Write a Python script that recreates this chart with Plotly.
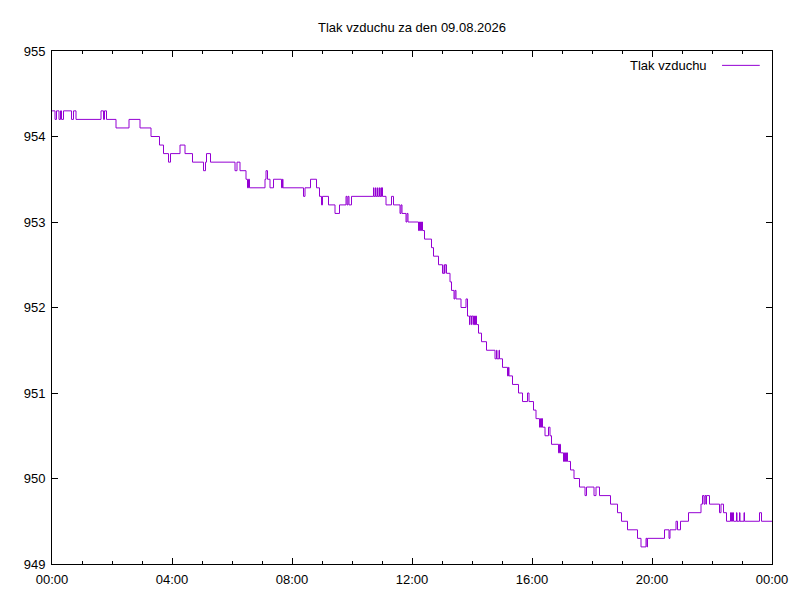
#!/usr/bin/env python
"""Denni graf tlaku vzduchu (styl gnuplot) vykresleny v Plotly."""
import pandas as pd
import plotly.graph_objects as go

# --- Data: minuta od pulnoci, tlak v hPa (schodovity prubeh) ---
day = "2026-08-09"
minutes = [
    0, 6, 9, 14, 17, 19, 23, 39, 43, 48, 98, 103, 105, 109, 128, 154, 176, 198,
    215, 223, 233, 237, 256, 266, 281, 303, 307, 309, 317, 366, 370, 376, 388,
    391, 393, 395, 426, 428, 431, 436, 443, 459, 461, 462, 503, 506, 517, 529,
    535, 539, 541, 553, 566, 575, 588, 590, 592, 594, 599,
    643, 644, 647, 648, 651, 652, 655, 656, 658, 659, 660, 661,
    668, 679, 683, 696, 698, 700, 708, 710, 712,
    733, 735, 737, 739, 741, 745, 759, 763, 773, 781, 784, 785, 786, 789, 796,
    799, 804, 806, 808, 818, 828, 831, 835, 836, 839, 840, 843, 845, 846, 847,
    849, 853, 859, 869, 886, 889, 890, 894, 895, 901, 911, 913, 914, 921, 933,
    941, 951, 954, 963, 968, 975, 977, 979, 980, 981, 986, 993, 996, 999, 1013,
    1015, 1017, 1023, 1025, 1027, 1029, 1031, 1033, 1037, 1044, 1055, 1066,
    1069, 1084, 1088, 1095, 1117, 1131, 1139, 1151, 1171, 1178, 1188, 1190,
    1191, 1225, 1234, 1236, 1248, 1251, 1257, 1273, 1298, 1301, 1304, 1306,
    1308, 1309, 1315, 1335, 1338, 1343, 1349, 1357, 1359, 1361, 1363, 1369,
    1370, 1375, 1376, 1384, 1385, 1415, 1419, 1440,
]
pressure = [
    954.3, 954.2, 954.3, 954.2, 954.3, 954.2, 954.3, 954.2, 954.3, 954.2,
    954.3, 954.2, 954.3, 954.2, 954.1, 954.2, 954.1, 954.0, 953.9, 953.8,
    953.7, 953.8, 953.9, 953.8, 953.7, 953.6, 953.7, 953.8, 953.7, 953.6,
    953.7, 953.6, 953.5, 953.4, 953.5, 953.4, 953.5, 953.6, 953.5, 953.4,
    953.5, 953.4, 953.5, 953.4, 953.3, 953.4, 953.5, 953.4, 953.3, 953.2,
    953.3, 953.2, 953.1, 953.2, 953.3, 953.2, 953.3, 953.2, 953.3,
    953.4, 953.3, 953.4, 953.3, 953.4, 953.3, 953.4, 953.3, 953.4, 953.3,
    953.4, 953.3,
    953.2, 953.3, 953.2, 953.1, 953.2, 953.1, 953.0, 953.1, 953.0,
    952.9, 953.0, 952.9, 953.0, 952.9, 952.8, 952.7, 952.6, 952.5, 952.4,
    952.5, 952.4, 952.5, 952.4, 952.3, 952.2, 952.1, 952.2, 952.1, 952.0,
    952.1, 951.9, 951.8, 951.9, 951.8, 951.9, 951.8, 951.9, 951.8, 951.9,
    951.8, 951.7, 951.6, 951.5, 951.4, 951.5, 951.4, 951.5, 951.4, 951.3,
    951.2, 951.3, 951.2, 951.1, 951.0, 950.9, 951.0, 950.9, 950.8, 950.7,
    950.6, 950.7, 950.6, 950.7, 950.6, 950.5, 950.6, 950.5, 950.4, 950.3,
    950.4, 950.3, 950.2, 950.3, 950.2, 950.3, 950.2, 950.2, 950.1, 950.0,
    949.9, 949.8, 949.9, 949.8, 949.9, 949.8, 949.7, 949.6, 949.5, 949.4,
    949.3, 949.2, 949.3, 949.2, 949.3, 949.4, 949.3, 949.4, 949.5, 949.4,
    949.5, 949.6, 949.7, 949.8, 949.7, 949.8, 949.7, 949.8, 949.7, 949.6,
    949.7, 949.6, 949.5, 949.6, 949.5, 949.6, 949.5, 949.6, 949.5, 949.6,
    949.5, 949.6, 949.5, 949.6, 949.5, 949.5,
]
series_name = "Tlak vzduchu"
title_text = "Tlak vzduchu za den 09.08.2026"

times = pd.Timestamp(day) + pd.to_timedelta(minutes, unit="min")
start = pd.Timestamp(day)
end = start + pd.Timedelta(days=1)

FONT = "Liberation Sans, Arial, sans-serif"
FSIZE = 13
LINE_COLOR = "#9400D3"

# the page body adds an 8 px margin, so the figure is 8 px smaller
W, H = 792, 592

fig = go.Figure()
fig.add_trace(go.Scatter(
    x=times,
    y=pressure,
    mode="lines",
    name=series_name,
    line=dict(color=LINE_COLOR, width=1, shape="hv"),
))

# gnuplot-like key: text on the left, sample line on the right
fig.add_annotation(
    text=series_name, xref="paper", yref="paper", x=0.912, y=0.971,
    xanchor="right", yanchor="middle", showarrow=False,
    font=dict(family=FONT, size=FSIZE, color="black"),
)
fig.add_shape(
    type="line", xref="paper", yref="paper", x0=0.9306, x1=0.983,
    y0=0.972, y1=0.972, line=dict(color=LINE_COLOR, width=1),
)

fig.update_layout(
    width=W, height=H,
    margin=dict(l=44, r=28, t=43, b=36, autoexpand=False),
    paper_bgcolor="white", plot_bgcolor="white",
    showlegend=False,
    font=dict(family=FONT, size=FSIZE, color="black"),
    title=dict(text=title_text, x=0.5, xref="paper", xanchor="center",
               y=1 - 19 / H, yref="container", yanchor="middle",
               font=dict(family=FONT, size=FSIZE, color="black")),
)
fig.update_xaxes(
    type="date", range=[start, end], dtick=4 * 3600 * 1000, tick0=start,
    tickformat="%H:%M", ticks="inside", ticklen=6, tickcolor="black",
    ticklabelstandoff=3,
    showline=True, linecolor="black", linewidth=1, mirror="ticks",
    showgrid=False, zeroline=False, automargin=False,
    minor=dict(dtick=3600 * 1000, ticks="inside", ticklen=3, tickcolor="black", showgrid=False),
)
fig.update_yaxes(
    range=[949, 955], dtick=1, ticks="inside", ticklen=6, tickcolor="black",
    ticklabelstandoff=3,
    showline=True, linecolor="black", linewidth=1, mirror="ticks",
    showgrid=False, zeroline=False, automargin=False,
)

fig.write_html("out.html")
